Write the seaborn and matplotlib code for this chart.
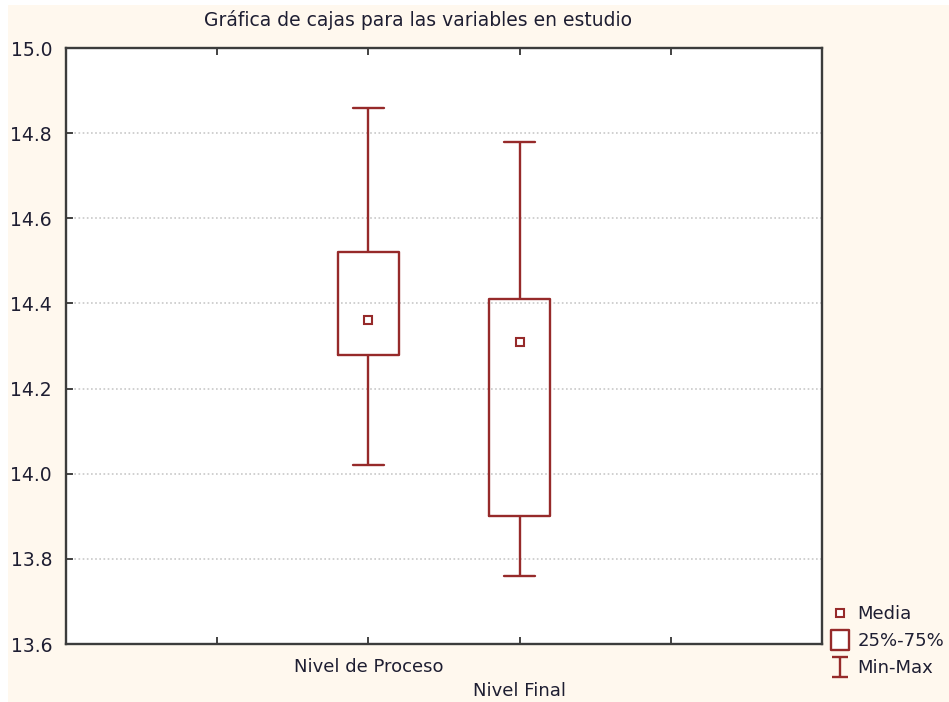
import numpy as np
import pandas as pd
import matplotlib
matplotlib.use("Agg")
import matplotlib.pyplot as plt
from matplotlib.lines import Line2D
from matplotlib.path import Path
from matplotlib.patches import Rectangle
import seaborn as sns

# Summary statistics for each variable
categories = ["Nivel de Proceso", "Nivel Final"]
minimos = [14.02, 13.76]
q25 = [14.28, 13.90]
medias = [14.36, 14.31]
q75 = [14.52, 14.41]
maximos = [14.86, 14.78]
y_ticks = [13.6, 13.8, 14.0, 14.2, 14.4, 14.6, 14.8, 15.0]
legend_labels = ["Media", "25%-75%", "Min-Max"]

# Five ordered values per variable: with n=5 the 25th/75th percentiles
# fall exactly on q25/q75 and the extremes on min/max.
rows = []
for cat, mn, a, m, b, mx in zip(categories, minimos, q25, medias, q75, maximos):
    for v in (mn, a, m, b, mx):
        rows.append({"variable": cat, "valor": v})
df = pd.DataFrame(rows)

RED = "#962a2a"
TEXT = "#1e1e32"
BG = "#fff8ee"

sns.set_theme(style="white")
plt.rcParams["font.family"] = ["DejaVu Sans"]

fig = plt.figure(figsize=(9.49, 7.02), dpi=100)
fig.patch.set_facecolor("white")
fig.patches.append(Rectangle((8 / 949, -0.01), 1.02, 1.01 - 5 / 702, transform=fig.transFigure,
                             facecolor=BG, edgecolor="none", zorder=-10))

ax = fig.add_axes([66 / 949, 1 - 644 / 702, (822 - 66) / 949, (644 - 48) / 702])
ax.set_facecolor("white")

sns.boxplot(data=df, x="variable", y="valor", order=categories,
            whis=(0, 100), width=0.4, fill=False, color=RED, linewidth=1.7,
            medianprops={"visible": False}, ax=ax)

sns.pointplot(x=categories, y=medias, order=categories, errorbar=None,
              linestyle="none", marker="s", markersize=6,
              markerfacecolor="white", markeredgecolor=RED,
              markeredgewidth=1.5, color=RED, ax=ax)

ax.set_xlim(-2, 3)
ax.set_ylim(13.6, 15.0)
ax.set_xticks([-1, 0, 1, 2])
ax.set_xticklabels(["", categories[0], "\n" + categories[1], ""])
ax.set_yticks(y_ticks)
ax.set_yticklabels([f"{t:.1f}" for t in y_ticks])
ax.set_xlabel("")
ax.set_ylabel("")

for t in ax.get_xticklabels():
    t.set_linespacing(1.45)

ax.tick_params(axis="x", which="both", direction="in", length=5, width=1.2,
               top=True, bottom=True, pad=10, labelsize=13, colors="#222222")
ax.tick_params(axis="x", labelcolor=TEXT)
ax.tick_params(axis="y", direction="in", length=5, width=1.2, left=True,
               right=False, pad=10, labelsize=13.5, labelcolor=TEXT)

for y in y_ticks[1:-1]:
    ax.axhline(y, color="#c8c8c8", linestyle=(0, (1, 1.5)), linewidth=1.2, zorder=0)

for s in ax.spines.values():
    s.set_visible(True)
    s.set_color("#3c3c3c")
    s.set_linewidth(1.7)

fig.text(418 / 949, 1 - 20 / 702, "Gráfica de cajas para las variables en estudio",
         ha="center", va="center", fontsize=13.5, color=TEXT)

# Legend symbols
ibeam = Path([(-0.8, -1), (0.8, -1), (0, -1), (0, 1), (-0.8, 1), (0.8, 1)],
             [Path.MOVETO, Path.LINETO, Path.MOVETO, Path.LINETO, Path.MOVETO, Path.LINETO])
rect = Path([(-0.85, -1), (0.85, -1), (0.85, 1), (-0.85, 1), (-0.85, -1)],
            [Path.MOVETO, Path.LINETO, Path.LINETO, Path.LINETO, Path.CLOSEPOLY])
handles = [
    Line2D([], [], ls="none", marker="s", markersize=6, markerfacecolor="white",
           markeredgecolor=RED, markeredgewidth=1.5),
    Line2D([], [], ls="none", marker=rect, markersize=15, markerfacecolor="white",
           markeredgecolor=RED, markeredgewidth=1.7),
    Line2D([], [], ls="none", marker=ibeam, markersize=15, markerfacecolor="none",
           markeredgecolor=RED, markeredgewidth=1.7),
]
fig.legend(handles, legend_labels, loc="center left",
           bbox_to_anchor=(831 / 949, 1 - 641 / 702), frameon=False,
           fontsize=13, labelcolor=TEXT, handlelength=1.0, handletextpad=0.45,
           labelspacing=0.5, borderpad=0, borderaxespad=0)

fig.savefig("out.png", dpi=100, facecolor=fig.get_facecolor())
